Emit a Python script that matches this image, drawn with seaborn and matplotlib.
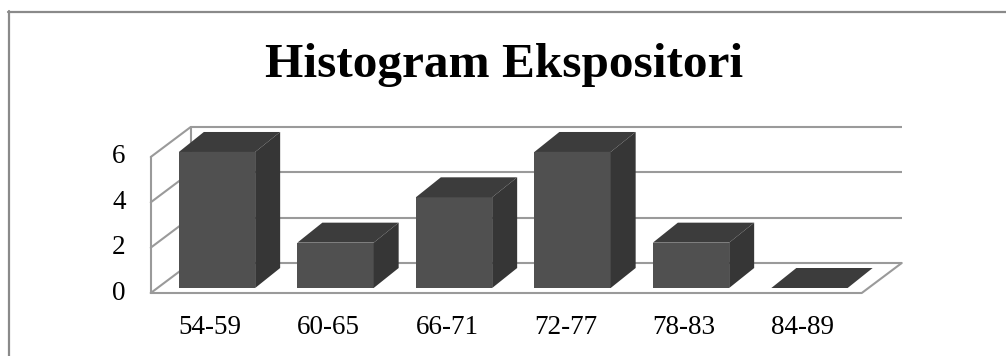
import matplotlib
matplotlib.use("Agg")
import matplotlib.pyplot as plt
from matplotlib.patches import Polygon
from matplotlib.lines import Line2D
import seaborn as sns
import pandas as pd

# Frequency table
categories = ["54-59", "60-65", "66-71", "72-77", "78-83", "84-89"]
counts = [6, 2, 4, 6, 2, 0]
y_ticks = [0, 2, 4, 6]
title = "Histogram Ekspositori"

df = pd.DataFrame({"kelas": categories, "frekuensi": counts})

sns.set_theme(style="white")
plt.rcParams["font.family"] = ["Liberation Serif", "DejaVu Serif"]

W, H = 1006, 356
fig = plt.figure(figsize=(W / 100, H / 100), dpi=100)
ax = fig.add_axes([0, 0, 1, 1])

# pixel scale of the chart plane
PX_X = 118.5          # pixels per category
PX_Y = 22.67          # pixels per count unit
X0, Y0 = 217.0, 288.0  # pixel position of category 0 centre / count 0


def off(px, py):
    """Convert a pixel offset (right, up) to data units."""
    return px / PX_X, py / PX_Y


bar_dx, bar_dy = off(25, 20)       # depth of each bar
front_dx, front_dy = off(-7, -5)   # floor front edge relative to bar plane
back_dx, back_dy = off(33, 25)     # back wall relative to bar plane

FRONT = "#505050"
SIDE = "#363636"
TOP = "#3c3c3c"
GRID = "#9a9a9a"
lw = 1.5

x_left, x_right = -0.5, 5.5
ymax = max(y_ticks)

# back wall gridlines
for v in y_ticks:
    ax.plot([x_left + back_dx, x_right + back_dx], [v + back_dy] * 2,
            color=GRID, lw=lw, zorder=1, solid_capstyle="butt")
# back wall left edge
ax.plot([x_left + back_dx] * 2, [back_dy, ymax + back_dy], color=GRID, lw=lw, zorder=1)
# side wall diagonals
for v in y_ticks:
    ax.plot([x_left + front_dx, x_left + back_dx], [v + front_dy, v + back_dy],
            color=GRID, lw=lw, zorder=1)
# side wall front edge
ax.plot([x_left + front_dx] * 2, [front_dy, ymax + front_dy], color=GRID, lw=lw, zorder=1)
# floor front and right edges
ax.plot([x_left + front_dx, x_right + front_dx, x_right + back_dx],
        [front_dy, front_dy, back_dy], color=GRID, lw=lw, zorder=1)

# bar front faces
sns.barplot(data=df, x="kelas", y="frekuensi", ax=ax, color=FRONT,
            saturation=1, width=0.644, linewidth=0, zorder=3)

# bar tops and sides
for p in ax.patches:
    x, w, h = p.get_x(), p.get_width(), p.get_height()
    top = [(x, h), (x + w, h), (x + w + bar_dx, h + bar_dy), (x + bar_dx, h + bar_dy)]
    ax.add_patch(Polygon(top, closed=True, facecolor=TOP, edgecolor="none", zorder=3))
    if h > 0:
        side = [(x + w, 0), (x + w + bar_dx, bar_dy), (x + w + bar_dx, h + bar_dy), (x + w, h)]
        ax.add_patch(Polygon(side, closed=True, facecolor=SIDE, edgecolor="none", zorder=3))
    else:
        p.set_visible(False)

ax.set_xlim(-X0 / PX_X, (W - X0) / PX_X)
ax.set_ylim((Y0 - H) / PX_Y, Y0 / PX_Y)
ax.axis("off")

# value axis labels
for v in y_ticks:
    ax.text((119 - X0) / PX_X, v + front_dy, str(v), ha="center", va="center",
            fontsize=19.5, color="black")

# category labels
for i, c in enumerate(categories):
    ax.text(i + front_dx, (Y0 - 327) / PX_Y, c, ha="center", va="center",
            fontsize=19.5, color="black")

fig.text(504 / W, 1 - 77 / H, title, ha="center", va="baseline",
         fontsize=35.5, fontweight="bold", color="black")

# chart frame
fig.add_artist(Line2D([8.5 / W, 8.5 / W], [0, 1 - 11 / H], color="#8a8a8a", lw=1.6,
                      transform=fig.transFigure))
fig.add_artist(Line2D([8 / W, 1], [1 - 11.5 / H, 1 - 11.5 / H], color="#8a8a8a", lw=1.6,
                      transform=fig.transFigure))

fig.savefig("out.png", dpi=100, facecolor="white")
